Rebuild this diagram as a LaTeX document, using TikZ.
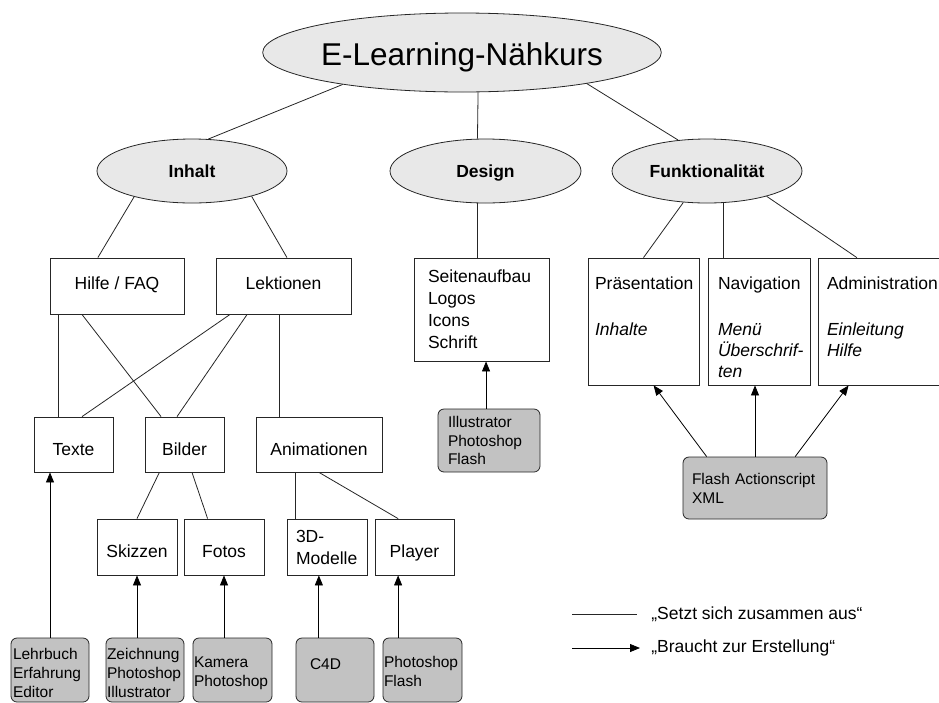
\documentclass[tikz,border=0pt]{standalone}
\usepackage{fontspec}
\setmainfont{Liberation Sans}
\usetikzlibrary{shapes.geometric,arrows.meta,calc}
\definecolor{ellgrey}{gray}{0.91}
\definecolor{toolgrey}{gray}{0.76}

\begin{document}
\begin{tikzpicture}[x=1pt,y=-1pt,line width=0.8pt,
		every node/.style={inner sep=0pt},
		topic/.style={ellipse,draw=black!85,fill=ellgrey,minimum width=190pt,minimum height=64pt,text height=13.5pt,text depth=0pt,font=\fontsize{17.5}{21}\selectfont\bfseries},
		part/.style={draw=black!85,font=\fontsize{17.5}{22}\selectfont},
		rowtop/.style={text height=13pt,text depth=6.5pt},
		rowlow/.style={text height=21.5pt,text depth=0pt},
		parttext/.style={anchor=north west,align=left,font=\fontsize{17.5}{21}\selectfont},
		tool/.style={draw=black!85,fill=toolgrey,rounded corners=6pt,align=left,font=\fontsize{15.5}{19}\selectfont},
		tooltext/.style={anchor=north west,align=left,font=\fontsize{15.5}{19}\selectfont},
		link/.style={draw=black!85},
		need/.style={draw=black,-{Triangle[length=10pt,width=8pt]}}]
		\useasboundingbox (0,0) rectangle (939,702);
		\node[topic,minimum width=381pt,minimum height=79pt,text height=25pt,font=\fontsize{31.5}{36}\selectfont] (Kurs) at (462,52.5) {E-Learning-Nähkurs};
		\node[topic] (Inhalt) at (192,171) {Inhalt};
		\node[topic,minimum width=191pt] (Design) at (485.5,171) {Design};
		\node[topic] (Funktion) at (707,171) {Funktionalität};
		\node[part,rowtop,minimum width=134pt,minimum height=56pt] (Hilfe) at (117,286) {Hilfe / FAQ};
		\node[part,rowtop,minimum width=135pt,minimum height=56pt] (Lektionen) at (283.5,286) {Lektionen};
		\node[part,align=left,text width=107pt,inner xsep=14pt,minimum height=103pt] (Seiten) at (481.5,309.5) {Seitenaufbau\\Logos\\Icons\\Schrift};
		\node[part,minimum width=111pt,minimum height=127pt] (Praes) at (643.5,321.5) {};
		\node[part,minimum width=102pt,minimum height=127pt] (Navi) at (759,321.5) {};
		\node[part,minimum width=132pt,minimum height=127pt] (Admin) at (884,321.5) {};
		\node[parttext] (PraesText) at ($(Praes.north west)+(7,18.5)$) {Präsentation\\[25pt]\textit{Inhalte}};
		\node[parttext] (NaviText) at ($(Navi.north west)+(10,18.5)$) {Navigation\\[25pt]\textit{Menü}\\\textit{Überschrif-}\\\textit{ten}};
		\node[parttext] (AdminText) at ($(Admin.north west)+(9,18.5)$) {Administration\\[25pt]\textit{Einleitung}\\\textit{Hilfe}};
		\node[part,rowlow,minimum width=79pt,minimum height=55pt] (Texte) at (73.5,444.5) {Texte};
		\node[part,rowlow,minimum width=79pt,minimum height=55pt] (Bilder) at (184.5,444.5) {Bilder};
		\node[part,rowlow,minimum width=126pt,minimum height=55pt] (Anim) at (319,444.5) {Animationen};
		\node[part,rowlow,minimum width=80pt,minimum height=56pt] (Skizzen) at (137,547) {Skizzen};
		\node[part,rowlow,minimum width=80pt,minimum height=56pt] (Fotos) at (224,547) {Fotos};
		\node[part,align=left,text width=62pt,inner xsep=9pt,minimum height=56pt] (Modelle) at (327,547) {3D-\\Modelle};
		\node[part,rowlow,minimum width=79pt,minimum height=56pt] (Player) at (414.5,547) {Player};
		\node[tool,text width=82pt,inner xsep=10pt,minimum height=63pt,font=\fontsize{15.5}{18.5}\selectfont] (Grafik) at (489,440.5) {Illustrator\\Photoshop\\Flash};
		\node[tool,text width=126pt,inner xsep=9pt,minimum height=62pt] (Script) at (755,488) {Flash Actionscript\\XML};
		\node[tool,minimum width=78pt,minimum height=64pt] (Lehrbuch) at (50,670) {};
		\node[tool,minimum width=78pt,minimum height=64pt] (Zeichnung) at (145,670) {};
		\node[tool,minimum width=79pt,minimum height=64pt] (Kamera) at (232.5,670) {};
		\node[tool,minimum width=78pt,minimum height=64pt] (Cad) at (335,670) {};
		\node[tool,minimum width=79pt,minimum height=64pt] (Flash) at (422.5,670) {};
		\node[tooltext] (LehrbuchText) at ($(Lehrbuch.north west)+(2,10.4)$) {Lehrbuch\\Erfahrung\\Editor};
		\node[tooltext] (ZeichnungText) at ($(Zeichnung.north west)+(1,10.4)$) {Zeichnung\\Photoshop\\Illustrator};
		\node[tooltext] (KameraText) at ($(Kamera.north west)+(1,18.4)$) {Kamera\\Photoshop};
		\node[tooltext] (CadText) at ($(Cad.north west)+(14,20.4)$) {C4D};
		\node[tooltext] (FlashText) at ($(Flash.north west)+(1,18.4)$) {Photoshop\\Flash};
		\draw[link] (Kurs.195) -- (Inhalt.63);
		\draw[link] (Kurs.292) -- (Design.104);
		\draw[link] (Kurs.346) -- (Funktion.133);
		\draw[link] (Inhalt.204) -- (Hilfe.124);
		\draw[link] (Inhalt.337) -- (Lektionen.83);
		\draw[link] (Design.256) -- (Design.256 |- Seiten.north);
		\draw[link] (Funktion.233) -- (Praes.north);
		\draw[link] (Funktion.297) -- (Funktion.297 |- Navi.north);
		\draw[link] (Funktion.337) -- (Admin.113);
		\draw[link] (Texte.119) -- (Texte.119 |- Hilfe.south);
		\draw[link] (Hilfe.219) -- (Bilder.130);
		\draw[link] (Lektionen.208) -- (Texte.73);
		\draw[link] (Lektionen.218) -- (Bilder.105);
		\draw[link] (Anim.145) -- (Anim.145 |- Lektionen.south);
		\draw[link] (Bilder.228) -- (Skizzen.north);
		\draw[link] (Bilder.285) -- (Fotos.120);
		\draw[link] (Anim.230) -- (Anim.230 |- Modelle.north);
		\draw[link] (Anim.south) -- (Player.120);
		\draw[need] (Lehrbuch.north) -- (Lehrbuch.north |- Texte.south);
		\draw[need] (Skizzen.south |- Zeichnung.north) -- (Skizzen.south);
		\draw[need] (Fotos.south |- Kamera.north) -- (Fotos.south);
		\draw[need] (Modelle.254 |- Cad.north) -- (Modelle.254);
		\draw[need] (Player.240 |- Flash.north) -- (Player.240);
		\draw[need] (Seiten.275 |- Grafik.north) -- (Seiten.275);
		\draw[need] (Script.147) -- (Praes.279);
		\draw[need] (Script.north) -- (Script.north |- Navi.south);
		\draw[need] (Script.38) -- (Admin.241);
		\coordinate (LegA) at (572,614);
		\coordinate (LegB) at (637,614);
		\coordinate (LegC) at (572,648);
		\coordinate (LegD) at (640,648);
		\draw[link] (LegA) -- (LegB);
		\draw[need] (LegC) -- (LegD);
		\node[anchor=west,font=\fontsize{17.5}{21}\selectfont] (Setzt) at (651,614) {„Setzt sich zusammen aus“};
		\node[anchor=west,font=\fontsize{17.5}{21}\selectfont] (Braucht) at (651,648) {„Braucht zur Erstellung“};
	\end{tikzpicture}
\end{document}
